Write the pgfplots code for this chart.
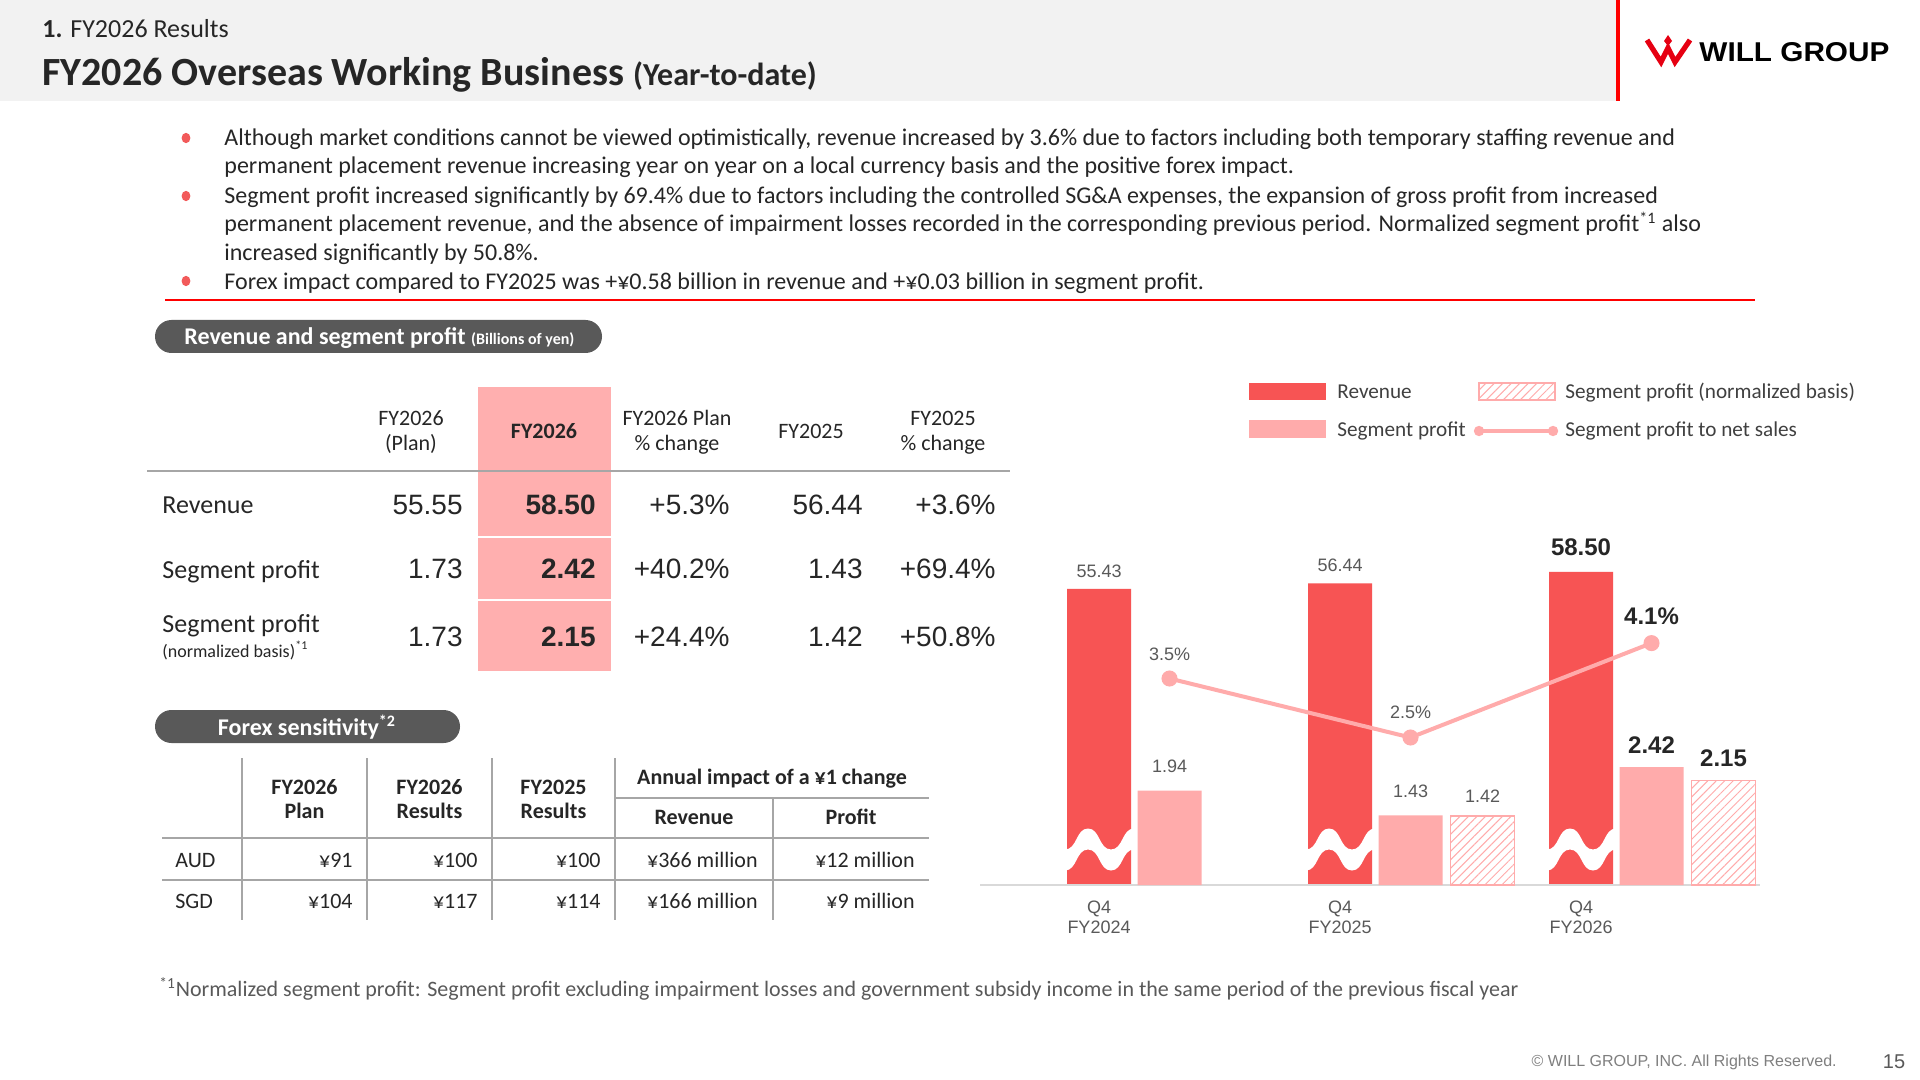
\documentclass[border=0pt]{standalone}
\usepackage{graphicx}
\usepackage{pgfplots}
\pgfplotsset{compat=1.18}
\usepackage{fontspec}
\setmainfont{Carlito}
\newfontfamily\arial{Liberation Sans}
\usetikzlibrary{patterns.meta}
\definecolor{hdr}{HTML}{F2F2F2}
\definecolor{wred}{HTML}{FF0000}
\definecolor{logored}{HTML}{E60012}
\definecolor{bred}{HTML}{F25A5A}
\definecolor{rev}{HTML}{F75454}
\definecolor{sp}{HTML}{FFABAB}
\definecolor{hl}{HTML}{FFAFAF}
\definecolor{pill}{HTML}{595959}
\definecolor{txt}{HTML}{262626}
\definecolor{lab}{HTML}{595959}
\definecolor{leg}{HTML}{404040}
\definecolor{rulec}{HTML}{A6A6A6}
\definecolor{axc}{HTML}{D9D9D9}
\definecolor{copyc}{HTML}{7F7F7F}
\newcommand\fs[2]{\fontsize{#1}{#2}\selectfont}
\pgfplotsset{chartbase/.style={
  scale only axis, width=390pt, height=200pt,
  at={(490pt,-442.5pt)}, anchor=south west,
  xmin=-0.4938, xmax=2.7427, clip mode=individual}}
\begin{document}
\begin{tikzpicture}[x=0.5pt,y=0.5pt,
  t/.style={inner sep=0pt, text=txt}]
\path[use as bounding box] (0,0) rectangle (1920,-1080);
\fill[white] (0,0) rectangle (1920,-1080);
% header
\fill[hdr] (0,0) rectangle (1616,-101);
\fill[wred] (1616,0) rectangle (1620,-101);
\node[t, anchor=base west] at (42,-38) {\fs{13}{15}\textbf{1.} FY2026 Results};
\node[t, anchor=base west] at (42,-86) {\fs{20}{24}\bfseries FY2026 Overseas Working Business \fs{16}{18}(Year-to-date)};
% logo
\draw[logored, line width=2.6pt, line join=miter] (1647,-40) -- (1661,-62) -- (1668,-48) -- (1675,-62) -- (1690,-40);
\fill[logored] (1668,-35) -- (1672,-41) -- (1668,-46) -- (1664,-41) -- cycle;
\node[anchor=base west, inner sep=0] at (1699,-62) {\resizebox{95pt}{9.5pt}{\arial\bfseries WILL GROUP}};
% bullets
\foreach \yy in {138,196,281} \fill[bred] (186,-\yy) ellipse (2.2pt and 2.6pt);
\node[t, anchor=base west] at (224,-146) {\fs{12}{14}Although market conditions cannot be viewed optimistically, revenue increased by 3.6\% due to factors including both temporary staffing revenue and};
\node[t, anchor=base west] at (224,-174) {\fs{12}{14}permanent placement revenue increasing year on year on a local currency basis and the positive forex impact.};
\node[t, anchor=base west] at (224,-204) {\fs{12}{14}Segment profit increased significantly by 69.4\% due to factors including the controlled SG\&A expenses, the expansion of gross profit from increased};
\node[t, anchor=base west] at (224,-232) {\fs{12}{14}permanent placement revenue, and the absence of impairment losses recorded in the corresponding previous period. Normalized segment profit\textsuperscript{*1} also};
\node[t, anchor=base west] at (224,-261) {\fs{12}{14}increased significantly by 50.8\%.};
\node[t, anchor=base west] at (224,-290) {\fs{12}{14}Forex impact compared to FY2025 was +¥0.58 billion in revenue and +¥0.03 billion in segment profit.};
\draw[wred, line width=1.1pt] (165,-300) -- (1755,-300);
% pill 1
\fill[pill, rounded corners=8.25pt] (155,-320) rectangle (602,-353);
\node[anchor=base west, inner sep=0, text=white] at (184,-344) {\fs{12}{14}\bfseries Revenue and segment profit \fs{8}{9}(Billions of yen)};
% table 1
\fill[hl] (478,-387) rectangle (611,-671);
\draw[white, line width=0.8pt] (478,-537) -- (611,-537);
\draw[white, line width=0.8pt] (478,-600) -- (611,-600);
\draw[rulec, line width=1.2pt] (147,-471) -- (1010,-471);
\begin{scope}[every node/.style={t, anchor=base, font=\fs{11}{13}}]
\node at (411,-425) {FY2026}; \node at (411,-450) {(Plan)};
\node at (544,-438) {\bfseries FY2026};
\node at (677,-425) {FY2026 Plan}; \node at (677,-450) {\% change};
\node at (811,-438) {FY2025};
\node at (943,-425) {FY2025}; \node at (943,-450) {\% change};
\end{scope}
\begin{scope}[every node/.style={t, anchor=base west, font=\fs{13}{15}}]
\node at (162,-513) {Revenue};
\node at (162,-578) {Segment profit};
\node at (162,-632) {Segment profit};
\node at (162,-657) {\fs{9}{11}(normalized basis)\textsuperscript{*1}};
\end{scope}
\begin{scope}[every node/.style={t, anchor=base east, font=\arial\fs{14}{16}}]
\node at (463,-514) {55.55}; \node at (596,-514) {\bfseries 58.50}; \node at (730,-514) {+5.3\%}; \node at (863,-514) {56.44}; \node at (996,-514) {+3.6\%};
\node at (463,-578) {1.73}; \node at (596,-578) {\bfseries 2.42}; \node at (730,-578) {+40.2\%}; \node at (863,-578) {1.43}; \node at (996,-578) {+69.4\%};
\node at (463,-646) {1.73}; \node at (596,-646) {\bfseries 2.15}; \node at (730,-646) {+24.4\%}; \node at (863,-646) {1.42}; \node at (996,-646) {+50.8\%};
\end{scope}
% pill 2
\fill[pill, rounded corners=8.25pt] (155,-710) rectangle (460,-743);
\node[anchor=base, inner sep=0, text=white] at (307,-735) {\fs{12}{14}\bfseries Forex sensitivity\textsuperscript{*2}};
% forex table
\begin{scope}[rulec, line width=1.1pt]
\foreach \xx in {242,367,492,615} \draw (\xx,-758) -- (\xx,-920);
\draw (773,-798) -- (773,-920);
\draw (615,-798) -- (929,-798);
\draw (162,-838) -- (929,-838);
\draw (162,-880) -- (929,-880);
\end{scope}
\begin{scope}[every node/.style={t, anchor=base, font=\fs{11}{13}\bfseries}]
\node at (304.5,-794) {FY2026}; \node at (304.5,-818) {Plan};
\node at (429.5,-794) {FY2026}; \node at (429.5,-818) {Results};
\node at (553.5,-794) {FY2025}; \node at (553.5,-818) {Results};
\node at (772,-784) {Annual impact of a ¥1 change};
\node at (694,-824) {Revenue}; \node at (851,-824) {Profit};
\end{scope}
\begin{scope}[every node/.style={t, anchor=base east, font=\fs{11}{13}}]
\node[anchor=base west] at (175,-867) {AUD};
\node at (353,-867) {¥91}; \node at (478,-867) {¥100}; \node at (601,-867) {¥100}; \node at (758,-867) {¥366 million}; \node at (915,-867) {¥12 million};
\node[anchor=base west] at (175,-908) {SGD};
\node at (353,-908) {¥104}; \node at (478,-908) {¥117}; \node at (601,-908) {¥114}; \node at (758,-908) {¥166 million}; \node at (915,-908) {¥9 million};
\end{scope}
% chart: revenue (broken scale)
\begin{axis}[chartbase, hide axis, ymin=2, ymax=74.2, ybar, bar width=0.2656]
\addplot[fill=rev, draw=none, bar shift=0pt] coordinates {(0,55.43) (1,56.44) (2,58.50)};
\node[inner sep=0, anchor=base, text=lab, yshift=5.8pt] at (axis cs:0,55.43) {\arial\fs{9}{10}55.43};
\node[inner sep=0, anchor=base, text=lab, yshift=5.8pt] at (axis cs:1,56.44) {\arial\fs{9}{10}56.44};
\node[inner sep=0, anchor=base, text=txt, yshift=8.2pt] at (axis cs:2,58.50) {\arial\bfseries\fs{12}{14}58.50};
\end{axis}
% axis break marks on the revenue bars
\foreach \c in {1099,1340,1581}
  \fill[white] (\c-34,-849.5) to[out=0,in=180] (\c-11,-828.5) to[out=0,in=180] (\c+12,-849.5) to[out=0,in=180] (\c+35,-828.5) -- (\c+38,-828.5)
     -- (\c+38,-849.5) -- (\c+35,-849.5) to[out=180,in=0] (\c+12,-870.5) to[out=180,in=0] (\c-11,-849.5) to[out=180,in=0] (\c-34,-870.5) -- cycle;
% chart: segment profit
\begin{axis}[chartbase, ymin=0, ymax=8.214, ybar, bar width=0.2656,
  axis y line=none, axis x line*=bottom, x axis line style={-, draw=axc, line width=0.8pt},
  xtick={0,1,2}, xticklabels={{Q4\\FY2024},{Q4\\FY2025},{Q4\\FY2026}},
  xtick style={draw=none}, major tick length=0pt,
  xticklabel style={align=center, font=\arial\fs{9}{10}, text=lab, anchor=north, yshift=-4.5pt}]
\addplot[fill=sp, draw=none, bar shift=0pt] coordinates {(0.2925,1.94) (1.2925,1.43) (2.2925,2.42)};
\addplot[pattern={Lines[angle=45,distance=3pt,line width=0.5pt]}, pattern color=sp, draw=sp, line width=0.8pt, bar shift=0pt] coordinates {(1.5913,1.42) (2.5913,2.15)};
\node[inner sep=0, anchor=base, text=lab, yshift=8.8pt] at (axis cs:0.2925,1.94) {\arial\fs{9}{10}1.94};
\node[inner sep=0, anchor=base, text=lab, yshift=8.8pt] at (axis cs:1.2925,1.43) {\arial\fs{9}{10}1.43};
\node[inner sep=0, anchor=base, text=lab, yshift=6.5pt] at (axis cs:1.5913,1.42) {\arial\fs{9}{10}1.42};
\node[inner sep=0, anchor=base, text=txt, yshift=6.7pt] at (axis cs:2.2925,2.42) {\arial\bfseries\fs{12}{14}2.42};
\node[inner sep=0, anchor=base, text=txt, yshift=6.7pt] at (axis cs:2.5913,2.15) {\arial\bfseries\fs{12}{14}2.15};
\end{axis}
% chart: profit ratio
\begin{axis}[chartbase, hide axis, ymin=0, ymax=6.78]
\addplot[color=sp, line width=2pt, mark=*, mark size=3pt, mark options={fill=sp, draw=sp}] coordinates {(0.2925,3.5) (1.2925,2.5) (2.2925,4.1)};
\node[inner sep=0, anchor=base, text=lab, yshift=8.8pt] at (axis cs:0.2925,3.5) {\arial\fs{9}{10}3.5\%};
\node[inner sep=0, anchor=base, text=lab, yshift=9.3pt] at (axis cs:1.2925,2.5) {\arial\fs{9}{10}2.5\%};
\node[inner sep=0, anchor=base, text=txt, yshift=9.2pt] at (axis cs:2.2925,4.1) {\arial\bfseries\fs{12}{14}4.1\%};
\end{axis}
% legend
\fill[rev] (1249,-383) rectangle (1326,-400);
\node[inner sep=0, anchor=base west, text=leg] at (1337,-398) {\fs{10.6}{13}Revenue};
\path[pattern={Lines[angle=45,distance=3pt,line width=0.5pt]}, pattern color=sp] (1479,-383) rectangle (1555,-400);
\draw[sp, line width=0.8pt] (1479,-383) rectangle (1555,-400);
\node[inner sep=0, anchor=base west, text=leg] at (1565,-398) {\fs{10.6}{13}Segment profit (normalized basis)};
\fill[sp] (1249,-420) rectangle (1326,-438);
\node[inner sep=0, anchor=base west, text=leg] at (1337,-436) {\fs{10.6}{13}Segment profit};
\draw[sp, line width=2pt] (1479,-431) -- (1553,-431);
\fill[sp] (1479,-431) circle (2.6pt) (1553,-431) circle (2.6pt);
\node[inner sep=0, anchor=base west, text=leg] at (1565,-436) {\fs{10.6}{13}Segment profit to net sales};
% footnote & footer
\node[inner sep=0, anchor=base west, text=lab] at (159,-996) {\fs{11}{13}\textsuperscript{*1}Normalized segment profit: Segment profit excluding impairment losses and government subsidy income in the same period of the previous fiscal year};
\node[inner sep=0, anchor=base east, text=copyc] at (1837,-1066) {\arial\fs{8}{10}© WILL GROUP, INC. All Rights Reserved.};
\node[inner sep=0, anchor=base, text=lab] at (1894,-1068) {\arial\fs{10}{12}15};
\end{tikzpicture}
\end{document}
